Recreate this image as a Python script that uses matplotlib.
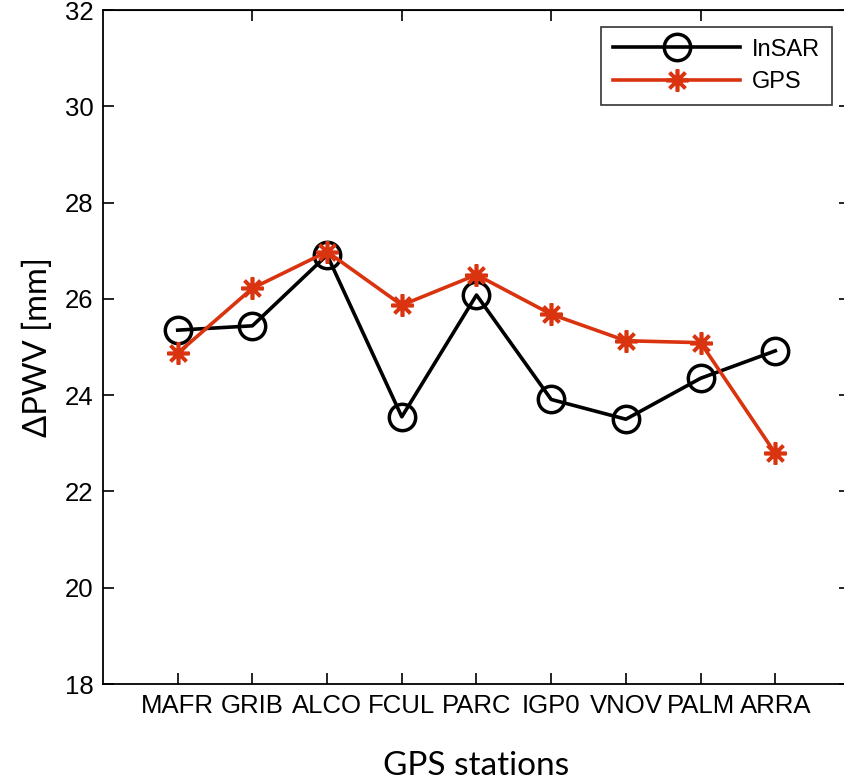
import matplotlib
matplotlib.use("Agg")
import matplotlib.pyplot as plt

stations = ["MAFR", "GRIB", "ALCO", "FCUL", "PARC", "IGP0", "VNOV", "PALM", "ARRA"]
insar = [25.35, 25.44, 26.91, 23.55, 26.08, 23.91, 23.50, 24.35, 24.92]
gps = [24.87, 26.22, 26.98, 25.87, 26.50, 25.68, 25.13, 25.09, 22.79]
yticks = [18, 20, 22, 24, 26, 28, 30, 32]

red = "#D9330F"
fig = plt.figure(figsize=(8.45, 7.80), dpi=100)
ax = fig.add_axes([103/845, 1-684/780, 747/845, 674/780])

x = list(range(1, len(stations) + 1))
ax.plot(x, insar, color="black", lw=2.6, marker="o", ms=19, mfc="none", mec="black", mew=2.5, label="InSAR", zorder=3)
ax.plot(x, gps, color=red, lw=2.6, marker=(8, 2, 0), ms=16, mec=red, mew=2.6, label="GPS", zorder=4)

ax.set_xlim(0, 10)
ax.set_ylim(18, 32)
ax.set_xticks(x)
ax.set_xticklabels(stations, family="Liberation Sans", fontsize=18.5)
ax.set_yticks(yticks)
ax.set_yticklabels([str(v) for v in yticks], family="Liberation Sans", fontsize=18.5)
ax.tick_params(direction="in", length=8, width=1.2, right=True, top=False, pad=7)
for s in ax.spines.values():
    s.set_linewidth(1.3)

sec = ax.secondary_xaxis("top")
sec.set_xticks([2, 4, 6, 8])
sec.set_xticklabels([])
sec.tick_params(direction="in", length=8, width=1.2)

ax.set_xlabel("GPS stations", family="Lato", fontsize=24, labelpad=24)
ax.set_ylabel("ΔPWV [mm]", family="Lato", fontsize=23.5, labelpad=8)

leg = ax.legend(loc="upper right", bbox_to_anchor=(0.976, 0.975), prop={"family": "Liberation Sans", "size": 17},
                frameon=True, fancybox=False, edgecolor="black", handlelength=5.4, borderpad=0.5,
                labelspacing=0.45, handletextpad=0.5, borderaxespad=0)
leg.get_frame().set_linewidth(1.2)

fig.savefig("out.png", dpi=100)
